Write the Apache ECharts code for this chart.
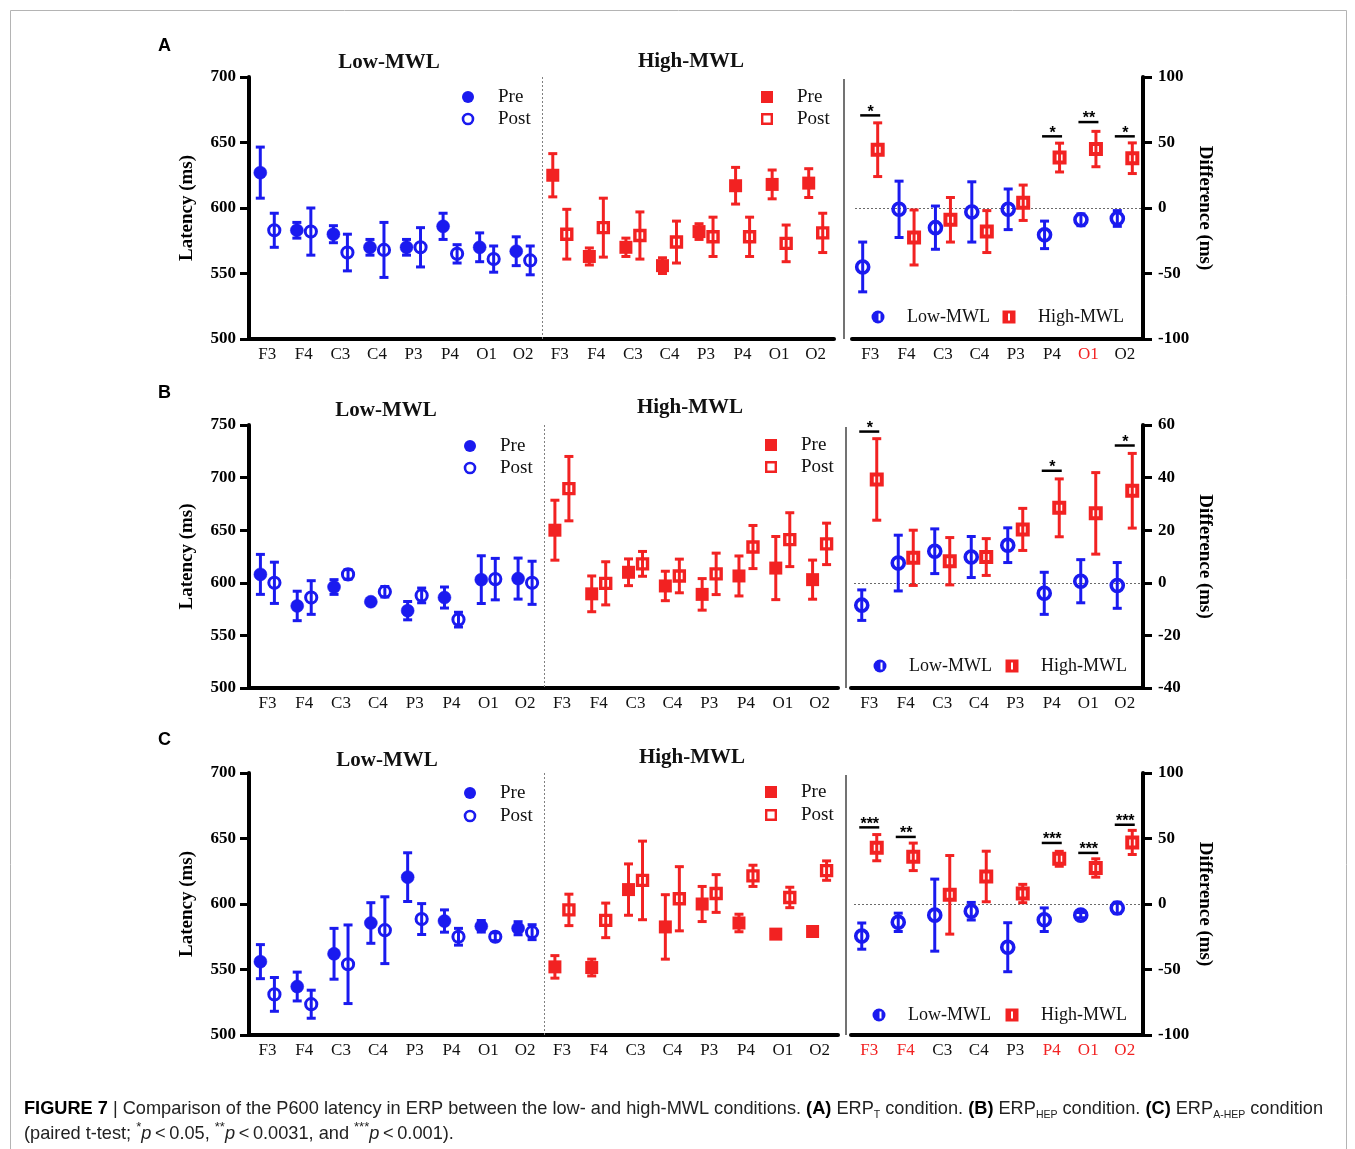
<!DOCTYPE html>
<html>
<head>
<meta charset="utf-8">
<title>P600 latency – ERP comparison</title>
<script src="https://cdn.jsdelivr.net/npm/echarts@6/dist/echarts.min.js"></script>
<style>
  html, body { margin: 0; padding: 0; background: #ffffff; }
  #chart { width: 1355px; height: 1149px; }
</style>
</head>
<body>
<div id="chart"></div>
<script>
// ---------------------------------------------------------------
// Data: P600 latency (ms), values are [mean, error]
// ---------------------------------------------------------------
const electrodes = ['F3', 'F4', 'C3', 'C4', 'P3', 'P4', 'O1', 'O2'];

// (A) ERP_T
const aLowPre   = [[627, 19.5], [583, 6], [580, 6.5], [570, 6], [570, 6], [586, 10], [570, 11], [567, 11]];
const aLowPost  = [[583, 13], [582, 18], [566, 14], [568, 21], [570, 15], [565, 7], [561, 10], [560, 11]];
const aHighPre  = [[625, 16.5], [563, 6.5], [570, 7], [556, 6], [582, 6], [617, 14], [618, 11], [619, 11]];
const aHighPost = [[580, 19], [585, 22.5], [579, 18], [574, 16], [578, 15], [578, 15], [573, 14], [581, 15]];
const aDiffLow  = [[-45, 19], [-1, 21.5], [-15, 16.5], [-3, 23], [-1, 15.5], [-20.5, 10.5], [-9, 4.5], [-8, 6]];
const aDiffHigh = [[44.5, 20.5], [-22.5, 21], [-9, 17], [-18, 16], [4, 13.5], [38.5, 11], [45, 13.5], [38, 11.7]];
const aSig      = [[0, 70.7, '*'], [5, 54.7, '*'], [6, 65.6, '**'], [7, 54.7, '*']];
const aRedLabels = ['O1'];

// (B) ERP_HEP
const bLowPre   = [[608, 19], [578, 14], [596, 7], [582, 1.5], [573.5, 8.7], [586, 10], [603, 22.7], [604, 19.5]];
const bLowPost  = [[600, 19.6], [586, 16], [608, 4.5], [591.5, 5], [588, 7], [565, 7], [603.5, 19.7], [600, 20.5]];
const bHighPre  = [[650, 28.5], [589.5, 17], [610, 12.7], [597, 14], [589, 15], [606.5, 19], [614, 30], [603, 18.6]];
const bHighPost = [[689.5, 30.6], [599.5, 20.5], [618, 11.8], [606.5, 16], [608.5, 19.7], [634, 20.5], [641, 25.6], [637, 19.7]];
const bDiffLow  = [[-8.5, 5.8], [7.5, 10.6], [12, 8.5], [9.8, 7.8], [14.3, 6.6], [-4, 8], [0.6, 8.2], [-1, 8.7]];
const bDiffHigh = [[39.3, 15.5], [9.5, 10.5], [8.2, 9], [9.8, 7], [20.3, 8], [28.5, 11], [26.4, 15.5], [35, 14.2]];
const bSig      = [[0, 57.5, '*'], [5, 42.6, '*'], [7, 52.2, '*']];
const bRedLabels = [];

// (C) ERP_A-HEP
const cLowPre   = [[556, 13], [537, 11], [562, 19.4], [585.5, 15.5], [620.5, 18.6], [587, 8.5], [583, 4.4], [581.5, 5]];
const cLowPost  = [[531, 12.9], [523.5, 10.7], [554, 30], [580, 25.5], [588.5, 11.8], [575, 6.4], [575, 3], [578.5, 5.7]];
const cHighPre  = [[552, 8.6], [551.5, 6.4], [611, 19.6], [582.5, 24.6], [600, 13.4], [585.5, 6.7], [577, 3], [579, 2.5]];
const cHighPost = [[595.5, 12], [587.5, 13.2], [618, 30], [604, 24.5], [608, 14.4], [621.5, 8.1], [605, 7.8], [625.5, 7.4]];
const cDiffLow  = [[-24.5, 10], [-14, 7], [-8.5, 27.5], [-5.5, 6.7], [-33, 18.7], [-12, 9], [-8.5, 2], [-3, 4.3]];
const cDiffHigh = [[43, 10], [36, 10.5], [7, 30], [21, 19.3], [8, 7], [34.5, 5.7], [27.5, 7], [47, 9.2]];
const cSig      = [[0, 58.5, '***'], [1, 51.2, '**'], [5, 46.6, '***'], [6, 39, '***'], [7, 60.5, '***']];
const cRedLabels = ['F3', 'F4', 'P4', 'O1', 'O2'];

// Axis ranges / ticks
const mainTicks = [[500, 700, 50], [500, 750, 50], [500, 700, 50]];
const diffTicks = [[-100, 100, 50], [-40, 60, 20], [-100, 100, 50]];

// ---------------------------------------------------------------
// Styling and layout
// ---------------------------------------------------------------
const SERIF = '"Liberation Serif", "Times New Roman", serif';
const SANS = '"Liberation Sans", Arial, Helvetica, sans-serif';
const BLUE = '#1a1aef';
const RED = '#f22222';

const panels = [
  { letter: 'A', top: 77,  height: 262, mainLeft: 249, mainWidth: 585, diffLeft: 852, diffWidth: 291, sepX: 844,
    letterY: 46, lowTitle: [389, 63], highTitle: [691, 62], lowLeg: [468, 97, 119], highLeg: [767, 97, 119], diffLegY: 317,
    lowDiffLegX: 878, highDiffLegX: 1009,
    lowPre: aLowPre, lowPost: aLowPost, highPre: aHighPre, highPost: aHighPost, dLow: aDiffLow, dHigh: aDiffHigh, sig: aSig, red: aRedLabels },
  { letter: 'B', top: 425, height: 263, mainLeft: 249, mainWidth: 589, diffLeft: 851, diffWidth: 292, sepX: 846,
    letterY: 393, lowTitle: [386, 411], highTitle: [690, 408], lowLeg: [470, 446, 468], highLeg: [771, 445, 467], diffLegY: 666,
    lowDiffLegX: 880, highDiffLegX: 1012,
    lowPre: bLowPre, lowPost: bLowPost, highPre: bHighPre, highPost: bHighPost, dLow: bDiffLow, dHigh: bDiffHigh, sig: bSig, red: bRedLabels },
  { letter: 'C', top: 773, height: 262, mainLeft: 249, mainWidth: 589, diffLeft: 851, diffWidth: 292, sepX: 846,
    letterY: 740, lowTitle: [387, 761], highTitle: [692, 758], lowLeg: [470, 793, 816], highLeg: [771, 792, 815], diffLegY: 1015,
    lowDiffLegX: 879, highDiffLegX: 1012,
    lowPre: cLowPre, lowPost: cLowPost, highPre: cHighPre, highPost: cHighPost, dLow: cDiffLow, dHigh: cDiffHigh, sig: cSig, red: cRedLabels }
];

// ---------------------------------------------------------------
// Marker shapes
// ---------------------------------------------------------------
function markerShape(kind, x, y, color) {
  switch (kind) {
    case 'dotFilled':
      return { type: 'circle', shape: { cx: x, cy: y, r: 6.5 }, style: { fill: color, stroke: color, lineWidth: 0.5 } };
    case 'dotOpen':
      return { type: 'circle', shape: { cx: x, cy: y, r: 5.6 }, style: { fill: 'none', stroke: color, lineWidth: 3 } };
    case 'dotDiff':
      return { type: 'circle', shape: { cx: x, cy: y, r: 6 }, style: { fill: 'none', stroke: color, lineWidth: 3.6 } };
    case 'sqFilled':
      return { type: 'rect', shape: { x: x - 6.5, y: y - 6.5, width: 13, height: 13 }, style: { fill: color } };
    case 'sqOpen':
      return { type: 'rect', shape: { x: x - 5, y: y - 5, width: 10, height: 10 }, style: { fill: 'none', stroke: color, lineWidth: 3.4 } };
    case 'sqDiff':
      return { type: 'rect', shape: { x: x - 5, y: y - 5, width: 10, height: 10 }, style: { fill: 'none', stroke: color, lineWidth: 4 } };
  }
}

// Mean ± error with capped bar, drawn through the axis scales
function pointBars(gridIndex, rows, catShift, dx, color, kind) {
  return {
    type: 'custom',
    xAxisIndex: gridIndex,
    yAxisIndex: gridIndex,
    z: 5,
    silent: true,
    data: rows.map((r, i) => [i + catShift, r[0], r[1]]),
    renderItem(params, api) {
      const cat = api.value(0), m = api.value(1), e = api.value(2);
      const c = api.coord([cat, m]);
      const top = api.coord([cat, m + e])[1];
      const bot = api.coord([cat, m - e])[1];
      const x = c[0] + dx, y = c[1];
      const st = { stroke: color, lineWidth: 3 };
      return {
        type: 'group',
        children: [
          { type: 'line', shape: { x1: x, y1: top, x2: x, y2: bot }, style: st },
          { type: 'line', shape: { x1: x - 4.5, y1: top, x2: x + 4.5, y2: top }, style: st },
          { type: 'line', shape: { x1: x - 4.5, y1: bot, x2: x + 4.5, y2: bot }, style: st },
          markerShape(kind, x, y, color)
        ]
      };
    }
  };
}

// Significance bar with asterisks
function sigMarks(gridIndex, rows) {
  return {
    type: 'custom',
    xAxisIndex: gridIndex,
    yAxisIndex: gridIndex,
    z: 6,
    silent: true,
    data: rows.map(r => [r[0], r[1]]),
    renderItem(params, api) {
      const p = api.coord([api.value(0), api.value(1)]);
      const stars = rows[params.dataIndex][2];
      return {
        type: 'group',
        children: [
          { type: 'line', shape: { x1: p[0] - 10, y1: p[1], x2: p[0] + 10, y2: p[1] }, style: { stroke: '#000', lineWidth: 2.5 } },
          { type: 'text', style: { text: stars, x: p[0] + 0.5, y: p[1] - 3, align: 'center', verticalAlign: 'middle',
              font: 'bold 16px ' + SANS, fill: '#000' } }
        ]
      };
    }
  };
}

// Dotted reference line at zero difference
function zeroLine(gridIndex) {
  return {
    type: 'custom', xAxisIndex: gridIndex, yAxisIndex: gridIndex, z: 1, silent: true,
    data: [[0, 0]],
    renderItem(params, api) {
      const cs = params.coordSys;
      const y = Math.round(api.coord([0, api.value(1)])[1]) + 0.5;
      return { type: 'line', shape: { x1: cs.x + 3, y1: y, x2: cs.x + cs.width - 2, y2: y },
        style: { stroke: '#6a6a6a', lineWidth: 1, lineDash: [2, 2] } };
    }
  };
}

// Dotted divider between the Low-MWL and High-MWL groups
function groupDivider(gridIndex, yMin) {
  return {
    type: 'custom', xAxisIndex: gridIndex, yAxisIndex: gridIndex, z: 1, silent: true,
    data: [[8, yMin]],
    renderItem(params, api) {
      const cs = params.coordSys;
      const a = api.coord([api.value(0) - 1, api.value(1)])[0];
      const b = api.coord([api.value(0), api.value(1)])[0];
      const x = Math.round((a + b) / 2) + 0.5;
      return { type: 'line', shape: { x1: x, y1: cs.y, x2: x, y2: cs.y + cs.height },
        style: { stroke: '#808080', lineWidth: 1, lineDash: [2, 2] } };
    }
  };
}

// ---------------------------------------------------------------
// Grids, axes, series
// ---------------------------------------------------------------
const grids = [], xAxes = [], yAxes = [], series = [], graphics = [];

panels.forEach((p, k) => {
  const gm = k * 2, gd = k * 2 + 1;
  grids.push({ left: p.mainLeft, top: p.top, width: p.mainWidth, height: p.height, containLabel: false });
  grids.push({ left: p.diffLeft, top: p.top, width: p.diffWidth, height: p.height, containLabel: false });

  // main panel axes
  xAxes.push({
    gridIndex: gm, type: 'category', data: electrodes.concat(electrodes), boundaryGap: true,
    axisLine: { onZero: false, lineStyle: { color: '#000', width: 4 } },
    axisTick: { show: false },
    axisLabel: { interval: 0, color: '#111', fontFamily: SERIF, fontSize: 17, margin: 7 }
  });
  yAxes.push({
    gridIndex: gm, type: 'value', min: mainTicks[k][0], max: mainTicks[k][1], interval: mainTicks[k][2],
    axisLine: { show: true, lineStyle: { color: '#000', width: 4 } },
    axisTick: { show: true, length: 9, lineStyle: { color: '#000', width: 3 } },
    axisLabel: { color: '#000', fontFamily: SERIF, fontWeight: 'bold', fontSize: 17, margin: 13 },
    splitLine: { show: false },
    name: 'Latency (ms)', nameLocation: 'middle', nameRotate: 90, nameGap: 52,
    nameTextStyle: { color: '#000', fontFamily: SERIF, fontWeight: 'bold', fontSize: 19 }
  });

  // difference panel axes
  const redSet = p.red;
  xAxes.push({
    gridIndex: gd, type: 'category', data: electrodes, boundaryGap: true,
    axisLine: { onZero: false, lineStyle: { color: '#000', width: 4 } },
    axisTick: { show: false },
    axisLabel: {
      interval: 0, color: '#111', fontFamily: SERIF, fontSize: 17, margin: 7,
      formatter: v => redSet.indexOf(v) >= 0 ? '{r|' + v + '}' : v,
      rich: { r: { color: RED, fontFamily: SERIF, fontSize: 17 } }
    }
  });
  yAxes.push({
    gridIndex: gd, type: 'value', position: 'right', min: diffTicks[k][0], max: diffTicks[k][1], interval: diffTicks[k][2],
    axisLine: { show: true, lineStyle: { color: '#000', width: 4 } },
    axisTick: { show: true, length: 9, lineStyle: { color: '#000', width: 3 } },
    axisLabel: { color: '#000', fontFamily: SERIF, fontWeight: 'bold', fontSize: 17, margin: 15 },
    splitLine: { show: false },
    name: 'Difference (ms)', nameLocation: 'middle', nameRotate: -90, nameGap: 52,
    nameTextStyle: { color: '#000', fontFamily: SERIF, fontWeight: 'bold', fontSize: 19 }
  });

  series.push(groupDivider(gm, mainTicks[k][0]));
  series.push(pointBars(gm, p.lowPre, 0, -7, BLUE, 'dotFilled'));
  series.push(pointBars(gm, p.lowPost, 0, 7, BLUE, 'dotOpen'));
  series.push(pointBars(gm, p.highPre, 8, -7, RED, 'sqFilled'));
  series.push(pointBars(gm, p.highPost, 8, 7, RED, 'sqOpen'));

  series.push(zeroLine(gd));
  series.push(pointBars(gd, p.dLow, 0, -7.5, BLUE, 'dotDiff'));
  series.push(pointBars(gd, p.dHigh, 0, 7.5, RED, 'sqDiff'));
  series.push(sigMarks(gd, p.sig));

  // panel letter and group titles
  graphics.push({ type: 'text', left: 158, top: p.letterY - 9,
    style: { text: p.letter, font: 'bold 18px ' + SANS, fill: '#000' } });
  graphics.push({ type: 'text', x: p.lowTitle[0], y: p.lowTitle[1],
    style: { text: 'Low-MWL', font: 'bold 21px ' + SERIF, fill: '#111', align: 'center', verticalAlign: 'middle' } });
  graphics.push({ type: 'text', x: p.highTitle[0], y: p.highTitle[1],
    style: { text: 'High-MWL', font: 'bold 21px ' + SERIF, fill: '#111', align: 'center', verticalAlign: 'middle' } });

  // Pre / Post legends
  const [lx, ly1, ly2] = p.lowLeg;
  graphics.push({ type: 'circle', shape: { cx: lx, cy: ly1, r: 6 }, style: { fill: BLUE } });
  graphics.push({ type: 'circle', shape: { cx: lx, cy: ly2, r: 5 }, style: { fill: 'none', stroke: BLUE, lineWidth: 2.6 } });
  graphics.push({ type: 'text', x: lx + 30, y: ly1, style: { text: 'Pre', font: '19px ' + SERIF, fill: '#111', verticalAlign: 'middle' } });
  graphics.push({ type: 'text', x: lx + 30, y: ly2, style: { text: 'Post', font: '19px ' + SERIF, fill: '#111', verticalAlign: 'middle' } });
  const [hx, hy1, hy2] = p.highLeg;
  graphics.push({ type: 'rect', shape: { x: hx - 6, y: hy1 - 6, width: 12, height: 12 }, style: { fill: RED } });
  graphics.push({ type: 'rect', shape: { x: hx - 4.8, y: hy2 - 4.8, width: 9.6, height: 9.6 }, style: { fill: 'none', stroke: RED, lineWidth: 2.4 } });
  graphics.push({ type: 'text', x: hx + 30, y: hy1, style: { text: 'Pre', font: '19px ' + SERIF, fill: '#111', verticalAlign: 'middle' } });
  graphics.push({ type: 'text', x: hx + 30, y: hy2, style: { text: 'Post', font: '19px ' + SERIF, fill: '#111', verticalAlign: 'middle' } });

  // difference legend
  const dy = p.diffLegY;
  graphics.push({ type: 'circle', shape: { cx: p.lowDiffLegX, cy: dy, r: 6.5 }, style: { fill: BLUE } });
  graphics.push({ type: 'rect', shape: { x: p.lowDiffLegX + 0.5, y: dy - 3.5, width: 2, height: 7 }, style: { fill: '#fff' } });
  graphics.push({ type: 'text', x: p.lowDiffLegX + 29, y: dy, style: { text: 'Low-MWL', font: '18px ' + SERIF, fill: '#111', verticalAlign: 'middle' } });
  graphics.push({ type: 'rect', shape: { x: p.highDiffLegX - 6.5, y: dy - 6.5, width: 13, height: 13 }, style: { fill: RED } });
  graphics.push({ type: 'rect', shape: { x: p.highDiffLegX - 1, y: dy - 3.5, width: 2, height: 7 }, style: { fill: '#fff' } });
  graphics.push({ type: 'text', x: p.highDiffLegX + 29, y: dy, style: { text: 'High-MWL', font: '18px ' + SERIF, fill: '#111', verticalAlign: 'middle' } });

  // separator left of the difference panel
  graphics.push({ type: 'line', shape: { x1: p.sepX, y1: p.top + 2, x2: p.sepX, y2: p.top + p.height },
    style: { stroke: '#444', lineWidth: 1.5 } });
});

// page frame
graphics.push({ type: 'polyline', shape: { points: [[10.5, 1149], [10.5, 10.5], [1346.5, 10.5], [1346.5, 1149]] },
  style: { fill: 'none', stroke: '#b4b4b4', lineWidth: 1 } });

// figure caption
const CAP = 18.2;
graphics.push({
  type: 'text', x: 24, y: 1096,
  style: {
    text: '{b|FIGURE 7} | Comparison of the P600 latency in ERP between the low- and high-MWL conditions. {b|(A)} ERP{sub|T} condition. {b|(B)} ERP{sub|HEP} condition. {b|(C)} ERP{sub|A-HEP} condition\n' +
          '(paired t-test; {sup|*}{i|p}\u2009<\u20090.05, {sup|**}{i|p}\u2009<\u20090.0031, and {sup|***}{i|p}\u2009<\u20090.001).',
    font: CAP + 'px ' + SANS, fill: '#222', lineHeight: 25,
    rich: {
      b: { fontFamily: SANS, fontSize: CAP, fontWeight: 'bold', fill: '#000', lineHeight: 25 },
      i: { fontFamily: SANS, fontSize: CAP, fontStyle: 'italic', fill: '#222', lineHeight: 25 },
      sub: { fontFamily: SANS, fontSize: 10.5, fill: '#222', lineHeight: 15, verticalAlign: 'bottom' },
      sup: { fontFamily: SANS, fontSize: 13, fill: '#222', lineHeight: 23, verticalAlign: 'top' }
    }
  }
});

const chart = echarts.init(document.getElementById('chart'), null, { renderer: 'canvas' });
chart.setOption({
  backgroundColor: '#ffffff',
  animation: false,
  textStyle: { fontFamily: SERIF },
  grid: grids,
  xAxis: xAxes,
  yAxis: yAxes,
  series: series,
  graphic: graphics
});
</script>
</body>
</html>
